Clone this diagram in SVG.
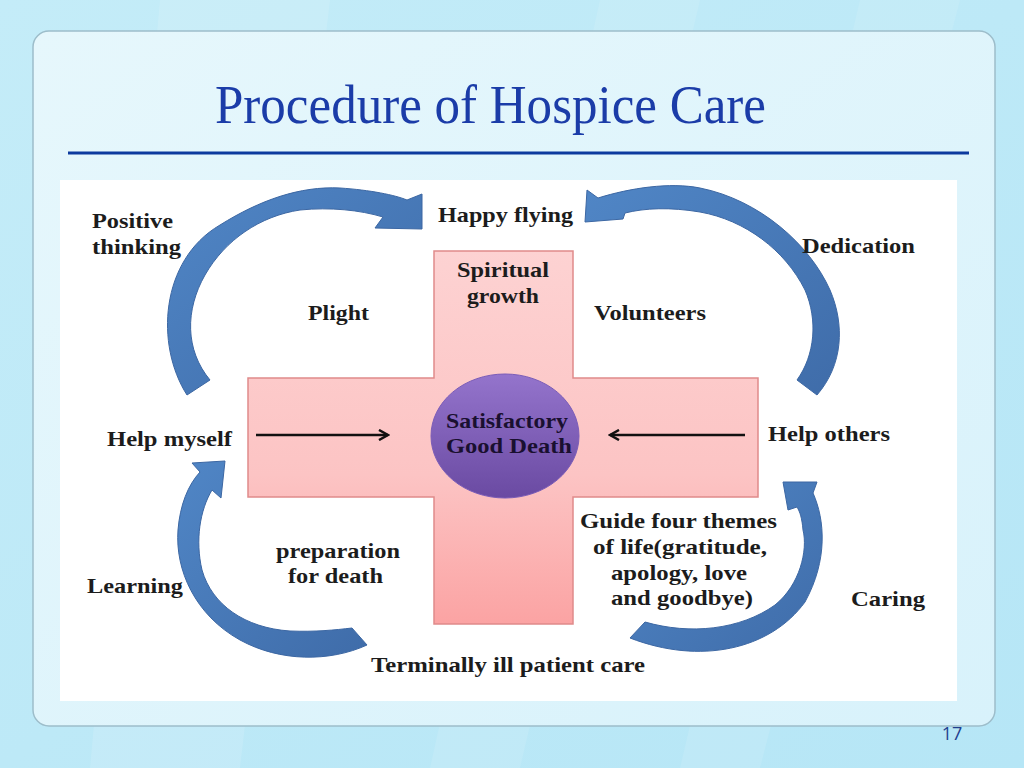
<svg xmlns="http://www.w3.org/2000/svg" width="1024" height="768" viewBox="0 0 1024 768">
  <defs>
    <linearGradient id="bg" x1="0" y1="0" x2="1" y2="1">
      <stop offset="0" stop-color="#c4ecf8"/>
      <stop offset="1" stop-color="#b6e6f6"/>
    </linearGradient>
    <linearGradient id="panel" x1="0" y1="0" x2="1" y2="1">
      <stop offset="0" stop-color="#e6f7fc"/>
      <stop offset="1" stop-color="#d8f2fb"/>
    </linearGradient>
    <linearGradient id="crossFill" x1="0" y1="0" x2="0" y2="1">
      <stop offset="0" stop-color="#fdd2d2"/>
      <stop offset="0.6" stop-color="#fcc4c4"/>
      <stop offset="1" stop-color="#fba3a3"/>
    </linearGradient>
    <linearGradient id="ellFill" x1="0" y1="0" x2="0" y2="1">
      <stop offset="0" stop-color="#9474cc"/>
      <stop offset="1" stop-color="#6a4aa2"/>
    </linearGradient>
    <linearGradient id="arrowFill" x1="0" y1="0" x2="1" y2="1">
      <stop offset="0" stop-color="#5086c6"/>
      <stop offset="1" stop-color="#3f6ca9"/>
    </linearGradient>
    <marker id="head" markerWidth="12" markerHeight="12" refX="10" refY="6" orient="auto" markerUnits="userSpaceOnUse">
      <path d="M1,1 L10,6 L1,11" fill="none" stroke="#111" stroke-width="2.5"/>
    </marker>
    <style>
      .lbl { font-family: "Liberation Serif", "Times New Roman", serif; font-weight: bold; font-size: 22px; fill: #1c1c1c; }
      .ctr { font-family: "Liberation Serif", "Times New Roman", serif; font-weight: bold; font-size: 22px; fill: #1a1030; }
      .curved { fill: url(#arrowFill); stroke: #3c67a3; stroke-width: 1; }
      .straight { fill: none; stroke: #111; stroke-width: 2.5; marker-end: url(#head); }
    </style>
  </defs>

  <!-- background -->
  <rect x="0" y="0" width="1024" height="768" fill="url(#bg)"/>
  <polygon points="160,0 330,0 240,768 90,768" fill="#ffffff" opacity="0.12"/>
  <polygon points="600,0 700,0 520,768 430,768" fill="#ffffff" opacity="0.10"/>
  <polygon points="860,0 960,0 760,768 680,768" fill="#ffffff" opacity="0.10"/>

  <!-- panel -->
  <rect x="33" y="31" width="962" height="695" rx="16" ry="16" fill="url(#panel)" stroke="#9dbdca" stroke-width="1.5"/>

  <!-- title -->
  <g id="title">
    <text x="215" y="123" font-family="'Liberation Serif', 'Times New Roman', serif" font-size="54" fill="#1b3ca8" textLength="551" lengthAdjust="spacingAndGlyphs">Procedure of Hospice Care</text>
    <line x1="68" y1="153" x2="969" y2="153" stroke="#0c3a9e" stroke-width="3"/>
  </g>

  <!-- diagram area -->
  <rect x="60" y="180" width="897" height="521" fill="#ffffff"/>

  <!-- cross -->
  <g id="cross">
    <polygon points="434,251 573,251 573,378 758,378 758,497 573,497 573,624 434,624 434,497 248,497 248,378 434,378" fill="url(#crossFill)" stroke="#e08b8b" stroke-width="1.5"/>
  </g>

  <!-- connectors -->
  <g id="connectors">
    <path class="curved" d="M187,395 C155,345 160,260 220,225 C260,200 300,186 340,188 C370,190 395,195 407,200 L422,194 L422,229 L375,228 L383,217 C360,210 330,207 300,210 C260,216 225,240 205,275 C185,310 185,350 210,380 Z"/>
    <path class="curved" d="M587,190 L598,198 C630,188 670,182 700,188 C760,200 810,245 830,290 C845,325 843,365 817,395 L797,380 C815,355 818,320 805,290 C785,250 745,220 700,212 C670,207 645,208 625,213 L623,219 L585,222 Z"/>
    <path class="curved" d="M352,628 L367,645 C330,662 280,662 240,640 C195,615 175,570 178,530 C180,505 188,485 200,472 L192,463 L225,461 L221,498 L212,490 C200,510 195,540 202,570 C212,605 245,628 290,631 C315,632 335,630 352,628 Z"/>
    <path class="curved" d="M630,638 L645,622 C690,635 740,630 775,605 C800,585 808,550 803,530 C802,518 800,512 797,507 L788,510 L783,482 L817,482 L813,493 C825,520 828,560 805,602 C770,650 700,665 630,638 Z"/>
    <line class="straight" x1="256" y1="435" x2="388" y2="435"/>
    <line class="straight" x1="745" y1="435" x2="610" y2="435"/>
  </g>

  <!-- center -->
  <g id="good-death">
    <ellipse cx="505" cy="436" rx="74" ry="62" fill="url(#ellFill)" stroke="#7a5cb8" stroke-width="1"/>
    <text class="ctr" x="446" y="428" textLength="122" lengthAdjust="spacingAndGlyphs">Satisfactory</text>
    <text class="ctr" x="446" y="453" textLength="126" lengthAdjust="spacingAndGlyphs">Good Death</text>
  </g>

  <g id="spiritual-growth">
    <text class="lbl" x="457" y="277" textLength="92" lengthAdjust="spacingAndGlyphs">Spiritual</text>
    <text class="lbl" x="467" y="303" textLength="72" lengthAdjust="spacingAndGlyphs">growth</text>
  </g>
  <g id="positive-thinking">
    <text class="lbl" x="92" y="228" textLength="81" lengthAdjust="spacingAndGlyphs">Positive</text>
    <text class="lbl" x="92" y="254" textLength="89" lengthAdjust="spacingAndGlyphs">thinking</text>
  </g>
  <g id="happy-flying">
    <text class="lbl" x="438" y="222" textLength="135" lengthAdjust="spacingAndGlyphs">Happy flying</text>
  </g>
  <g id="dedication">
    <text class="lbl" x="802" y="253" textLength="113" lengthAdjust="spacingAndGlyphs">Dedication</text>
  </g>
  <g id="plight">
    <text class="lbl" x="308" y="320" textLength="61" lengthAdjust="spacingAndGlyphs">Plight</text>
  </g>
  <g id="volunteers">
    <text class="lbl" x="594" y="320" textLength="112" lengthAdjust="spacingAndGlyphs">Volunteers</text>
  </g>
  <g id="help-myself">
    <text class="lbl" x="107" y="446" textLength="125" lengthAdjust="spacingAndGlyphs">Help myself</text>
  </g>
  <g id="help-others">
    <text class="lbl" x="768" y="441" textLength="122" lengthAdjust="spacingAndGlyphs">Help others</text>
  </g>
  <g id="preparation">
    <text class="lbl" x="276" y="558" textLength="124" lengthAdjust="spacingAndGlyphs">preparation</text>
    <text class="lbl" x="288" y="583" textLength="95" lengthAdjust="spacingAndGlyphs">for death</text>
  </g>
  <g id="learning">
    <text class="lbl" x="87" y="593" textLength="96" lengthAdjust="spacingAndGlyphs">Learning</text>
  </g>
  <g id="guide-themes">
    <text class="lbl" x="580" y="528" textLength="197" lengthAdjust="spacingAndGlyphs">Guide four themes</text>
    <text class="lbl" x="593" y="554" textLength="174" lengthAdjust="spacingAndGlyphs">of life(gratitude,</text>
    <text class="lbl" x="611" y="580" textLength="136" lengthAdjust="spacingAndGlyphs">apology, love</text>
    <text class="lbl" x="611" y="605" textLength="142" lengthAdjust="spacingAndGlyphs">and goodbye)</text>
  </g>
  <g id="caring">
    <text class="lbl" x="851" y="606" textLength="74" lengthAdjust="spacingAndGlyphs">Caring</text>
  </g>
  <g id="terminally-ill">
    <text class="lbl" x="371" y="672" textLength="274" lengthAdjust="spacingAndGlyphs">Terminally ill patient care</text>
  </g>

  <!-- page number -->
  <text x="952" y="740" text-anchor="middle" font-family="'Open Sans', 'Liberation Sans', sans-serif" font-size="18" fill="#1f3f8f">17</text>
</svg>
